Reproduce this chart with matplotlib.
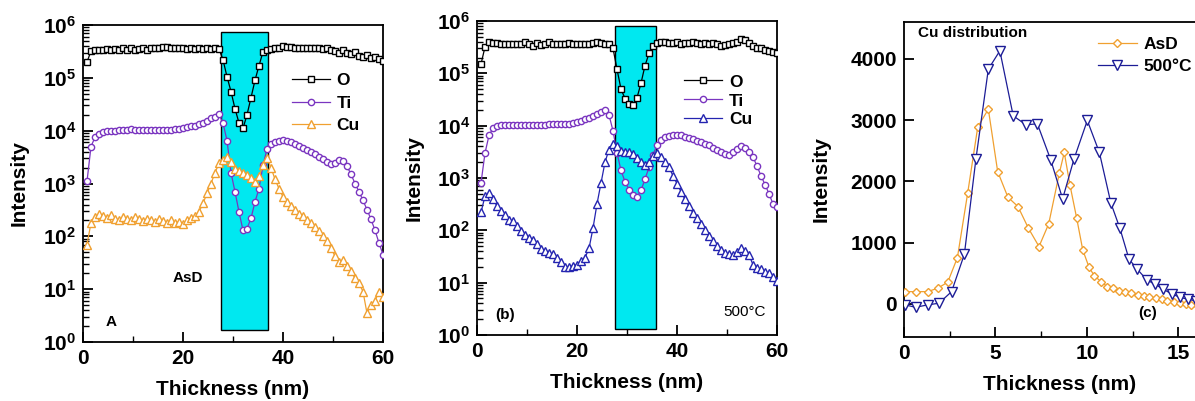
import math
import matplotlib
matplotlib.use("Agg")
import matplotlib.pyplot as plt
from matplotlib.patches import Rectangle
from matplotlib.ticker import FixedLocator, FuncFormatter, LogLocator, NullFormatter

plt.rcParams['font.family'] = ['Liberation Sans', 'DejaVu Sans']
plt.rcParams['mathtext.fontset'] = 'custom'
plt.rcParams['mathtext.rm'] = 'Liberation Sans'
plt.rcParams['mathtext.bf'] = 'Liberation Sans:bold'

# ---------------- data ----------------
thickness = [0.8, 1.6, 2.4, 3.2, 4.0, 4.8, 5.6, 6.4, 7.2, 8.0, 8.8, 9.6, 10.4, 11.2, 12.0,
             12.8, 13.6, 14.4, 15.2, 16.0, 16.8, 17.6, 18.4, 19.2, 20.0, 20.8, 21.6, 22.4,
             23.2, 24.0, 24.8, 25.6, 26.4, 27.2, 28.0, 28.8, 29.6, 30.4, 31.2, 32.0, 32.8,
             33.6, 34.4, 35.2, 36.0, 36.8, 37.6, 38.4, 39.2, 40.0, 40.8, 41.6, 42.4, 43.2,
             44.0, 44.8, 45.6, 46.4, 47.2, 48.0, 48.8, 49.6, 50.4, 51.2, 52.0, 52.8, 53.6,
             54.4, 55.2, 56.0, 56.8, 57.6, 58.4, 59.2, 60.0]

# Panel A (as deposited)
O_asd = [2.0e5, 3.2e5, 3.3e5, 3.4e5, 3.3e5, 3.5e5, 3.4e5, 3.5e5, 3.4e5, 3.6e5, 3.4e5, 3.7e5,
         3.3e5, 3.5e5, 3.6e5, 3.4e5, 3.6e5, 3.7e5, 3.6e5, 3.8e5, 3.9e5, 3.7e5, 3.6e5, 3.7e5,
         3.6e5, 3.5e5, 3.6e5, 3.5e5, 3.6e5, 3.5e5, 3.6e5, 3.5e5, 3.6e5, 3.5e5, 2.2e5, 1.05e5,
         5.5e4, 2.6e4, 1.4e4, 1.1e4, 2.0e4, 4.2e4, 9.0e4, 1.7e5, 3.1e5, 3.4e5, 3.5e5, 3.6e5,
         3.7e5, 4.0e5, 3.9e5, 3.8e5, 3.7e5, 3.6e5, 3.7e5, 3.6e5, 3.7e5, 3.6e5, 3.7e5, 3.5e5,
         3.6e5, 3.3e5, 3.2e5, 3.0e5, 3.3e5, 2.9e5, 2.8e5, 3.1e5, 2.6e5, 2.5e5, 2.7e5, 2.4e5,
         2.5e5, 2.3e5, 2.1e5]
Ti_asd = [1.1e3, 5.0e3, 7.5e3, 8.8e3, 9.5e3, 9.8e3, 1.0e4, 1.0e4, 1.02e4, 1.03e4, 1.05e4,
          1.07e4, 1.05e4, 1.04e4, 1.03e4, 1.02e4, 1.02e4, 1.03e4, 1.03e4, 1.04e4, 1.05e4,
          1.05e4, 1.06e4, 1.08e4, 1.1e4, 1.15e4, 1.2e4, 1.25e4, 1.32e4, 1.42e4, 1.55e4,
          1.7e4, 1.85e4, 2.05e4, 1.4e4, 6.5e3, 1.6e3, 7.0e2, 2.9e2, 1.3e2, 1.4e2, 2.2e2,
          4.5e2, 8.0e2, 2.2e3, 4.5e3, 5.5e3, 6.0e3, 6.5e3, 6.6e3, 6.4e3, 6.0e3, 5.6e3,
          5.2e3, 4.8e3, 4.4e3, 4.0e3, 3.6e3, 3.2e3, 2.9e3, 2.5e3, 2.3e3, 2.4e3, 2.8e3,
          2.7e3, 2.1e3, 1.5e3, 1.0e3, 7.0e2, 4.8e2, 3.2e2, 2.1e2, 1.3e2, 7.5e1, 4.5e1]
Cu_asd = [70, 180, 230, 260, 240, 220, 250, 210, 200, 230, 210, 200, 230, 210, 195, 215,
          200, 190, 210, 195, 180, 200, 175, 190, 170, 200, 220, 240, 290, 420, 650, 1000,
          1600, 2400, 2800, 3200, 2500, 1900, 1750, 1600, 1450, 1250, 1050, 1400, 2200,
          3000, 2000, 1200, 800, 560, 450, 380, 310, 260, 240, 200, 175, 150, 125, 100,
          80, 60, 42, 33, 36, 28, 22, 16, 13, 9, 3.5, 5, 6, 9, 7]

# Panel b (500 C)
O_500 = [1.5e5, 3.2e5, 3.9e5, 3.8e5, 3.8e5, 3.7e5, 3.7e5, 3.6e5, 3.7e5, 3.6e5, 3.7e5, 3.9e5,
         3.7e5, 3.3e5, 3.8e5, 3.5e5, 3.7e5, 3.9e5, 3.6e5, 3.7e5, 3.7e5, 3.6e5, 3.8e5, 3.7e5,
         3.7e5, 3.6e5, 3.7e5, 3.7e5, 3.8e5, 3.9e5, 3.8e5, 3.7e5, 3.6e5, 3.0e5, 1.2e5, 5.0e4,
         3.3e4, 2.6e4, 2.5e4, 3.4e4, 6.5e4, 1.4e5, 2.4e5, 3.4e5, 3.8e5, 3.9e5, 3.9e5, 3.8e5,
         3.8e5, 3.9e5, 3.7e5, 3.8e5, 3.8e5, 3.9e5, 3.8e5, 3.7e5, 3.8e5, 3.7e5, 3.8e5, 3.6e5,
         3.4e5, 3.5e5, 3.7e5, 3.8e5, 4.0e5, 4.5e5, 4.3e5, 3.8e5, 3.3e5, 3.1e5, 3.0e5, 2.8e5,
         2.7e5, 2.6e5, 2.5e5]
Ti_500 = [8.0e2, 3.0e3, 6.5e3, 9.0e3, 9.8e3, 1.02e4, 1.04e4, 1.05e4, 1.05e4, 1.05e4, 1.05e4,
          1.05e4, 1.05e4, 1.05e4, 1.05e4, 1.05e4, 1.05e4, 1.06e4, 1.06e4, 1.06e4, 1.07e4,
          1.07e4, 1.08e4, 1.12e4, 1.17e4, 1.25e4, 1.32e4, 1.4e4, 1.5e4, 1.65e4, 1.8e4,
          1.95e4, 1.6e4, 8.0e3, 3.0e3, 1.4e3, 8.5e2, 6.0e2, 4.8e2, 4.4e2, 5.8e2, 9.5e2,
          1.6e3, 2.8e3, 4.2e3, 5.3e3, 6.0e3, 6.4e3, 6.7e3, 6.7e3, 6.5e3, 6.2e3, 5.8e3,
          5.5e3, 5.1e3, 4.8e3, 4.5e3, 4.2e3, 3.8e3, 3.5e3, 3.2e3, 2.9e3, 2.8e3, 3.1e3,
          3.6e3, 4.0e3, 3.8e3, 3.2e3, 2.5e3, 1.7e3, 1.1e3, 7.5e2, 5.0e2, 3.2e2, 2.8e2]
Cu_500 = [220, 450, 520, 400, 290, 230, 200, 160, 150, 120, 95, 82, 72, 65, 55, 44, 40, 37,
          35, 30, 25, 20, 20, 21, 22, 26, 30, 45, 110, 320, 800, 2000, 3500, 4500, 4000,
          3300, 3200, 3100, 2900, 2400, 2000, 1800, 2000, 2600, 3000, 2500, 2000, 1600,
          1100, 780, 550, 390, 290, 215, 170, 135, 100, 78, 63, 50, 42, 37, 35, 34, 38,
          45, 40, 34, 22, 19, 18, 16, 15, 13, 11]

# Panel c (Cu distribution, linear)
x_asd_c = [0.05, 0.64, 1.29, 1.84, 2.39, 2.92, 3.48, 4.03, 4.61, 5.12, 5.68, 6.23, 6.8,
           7.38, 7.91, 8.49, 8.76, 9.07, 9.44, 9.77, 10.1, 10.4, 10.77, 11.1, 11.4, 11.77,
           12.1, 12.4, 12.77, 13.1, 13.4, 13.77, 14.1, 14.4, 14.77, 15.1, 15.4, 15.7, 16.05]
cu_asd_c = [200, 200, 200, 256, 354, 756, 1807, 2884, 3178, 2160, 1741, 1589, 1235, 936,
            1306, 2133, 2471, 1943, 1398, 882, 610, 457, 365, 283, 256, 218, 200, 174, 147,
            130, 109, 93, 76, 55, 38, 22, 0, -16, -30]
x_500_c = [0.05, 0.64, 1.29, 1.91, 2.6, 3.3, 3.93, 4.61, 5.24, 5.97, 6.67, 7.29, 8.02, 8.67,
           9.29, 10.02, 10.68, 11.31, 11.8, 12.3, 12.75, 13.27, 13.72, 14.17, 14.63, 15.08,
           15.5, 15.95]
cu_500_c = [-16, -55, -16, 11, 200, 810, 2362, 3831, 4130, 3069, 2922, 2939, 2351, 1714,
            2362, 2993, 2471, 1644, 1235, 730, 567, 392, 321, 240, 163, 109, 76, 50]

# cyan regions (x0, x1, y0, y1)
region_asd = (27.6, 37.0, 1.7, 7.3e5)
region_500 = (27.5, 35.8, 1.3, 7.9e5)

# ---------------- style ----------------
PURPLE = '#7A35C0'
ORANGE = '#F0A030'
BLUE = '#2424B0'
NAVY = '#1C1C96'
CYAN = '#00E8F0'

fig = plt.figure(figsize=(11.95, 4.01), dpi=100)
W, H = 1195.0, 401.0

def px_axes(left, right, top, bottom):
    return fig.add_axes([left / W, 1 - bottom / H, (right - left) / W, (bottom - top) / H])

axA = px_axes(83, 383, 25, 342)
axB = px_axes(477, 777, 21, 335)
axC = px_axes(904, 1215, 22, 337)

def style_log(ax):
    ax.set_yscale('log')
    ax.set_ylim(1, 1e6)
    ax.set_xlim(0, 60)
    ax.yaxis.set_major_locator(FixedLocator([1, 10, 100, 1e3, 1e4, 1e5, 1e6]))
    ax.yaxis.set_major_formatter(FuncFormatter(lambda v, p: r'$\mathbf{10^{%d}}$' % round(math.log10(v))))
    ax.yaxis.set_minor_locator(LogLocator(base=10, subs=range(2, 10), numticks=20))
    ax.yaxis.set_minor_formatter(NullFormatter())
    ax.xaxis.set_major_locator(FixedLocator([0, 20, 40, 60]))
    ax.xaxis.set_minor_locator(FixedLocator([10, 30, 50]))

def common(ax, ylabelpad):
    for s in ax.spines.values():
        s.set_linewidth(1.3)
    ax.tick_params(which='major', direction='in', length=7, width=1.3, labelsize=15, pad=5,
                   top=False, right=False)
    ax.tick_params(which='minor', direction='in', length=4, width=1.0, top=False, right=False)
    for lab in ax.get_xticklabels() + ax.get_yticklabels():
        lab.set_fontweight('bold')
    ax.set_xlabel('Thickness (nm)', fontsize=15, fontweight='bold', labelpad=9)
    ax.set_ylabel('Intensity', fontsize=15, fontweight='bold', labelpad=ylabelpad)

mk = dict(markerfacecolor='white', linewidth=0.9, markeredgewidth=1.0)
LEG = dict(loc='upper left', frameon=False, prop={'size': 12.5, 'weight': 'bold'},
           handlelength=2.2, handletextpad=0.4, borderpad=0, borderaxespad=0)

# ---- Panel A ----
style_log(axA)
x0, x1, y0, y1 = region_asd
axA.add_patch(Rectangle((x0, y0), x1 - x0, y1 - y0, facecolor=CYAN, edgecolor='black',
                        linewidth=1.0, zorder=1))
axA.plot(thickness, O_asd, color='black', marker='s', markersize=4, label='O', zorder=3, **mk)
axA.plot(thickness, Ti_asd, color=PURPLE, marker='o', markersize=4.5, label='Ti', zorder=3, **mk)
axA.plot(thickness, Cu_asd, color=ORANGE, marker='^', markersize=6, label='Cu', zorder=3, **mk)
axA.text(21, 16, 'AsD', fontsize=11, fontweight='bold', ha='center', va='center')
axA.text(5.6, 2.4, 'A', fontsize=11, fontweight='bold', ha='center', va='center')
axA.legend(bbox_to_anchor=(0.695, 0.848), labelspacing=0.42, **LEG)
common(axA, 10)

# ---- Panel b ----
style_log(axB)
x0, x1, y0, y1 = region_500
axB.add_patch(Rectangle((x0, y0), x1 - x0, y1 - y0, facecolor=CYAN, edgecolor='black',
                        linewidth=1.0, zorder=1))
axB.plot(thickness, O_500, color='black', marker='s', markersize=4, label='O', zorder=3, **mk)
axB.plot(thickness, Ti_500, color=PURPLE, marker='o', markersize=4.5, label='Ti', zorder=3, **mk)
axB.plot(thickness, Cu_500, color=BLUE, marker='^', markersize=6, label='Cu', zorder=3, **mk)
axB.text(5.6, 2.4, '(b)', fontsize=11, fontweight='bold', ha='center', va='center')
axB.text(53.5, 2.7, '500°C', fontsize=11, ha='center', va='center')
axB.legend(bbox_to_anchor=(0.69, 0.83), labelspacing=0.22, **LEG)
common(axB, 9)

# ---- Panel c ----
axC.set_xlim(0, 17)
axC.set_ylim(-540, 4600)
axC.xaxis.set_major_locator(FixedLocator([0, 5, 10, 15]))
axC.xaxis.set_minor_locator(FixedLocator([2.5, 7.5, 12.5]))
axC.yaxis.set_major_locator(FixedLocator([0, 1000, 2000, 3000, 4000]))
axC.plot(x_asd_c, cu_asd_c, color=ORANGE, marker='D', markersize=4, label='AsD', zorder=3, **mk)
axC.plot(x_500_c, cu_500_c, color=NAVY, marker='v', markersize=6.5, label='500°C', zorder=3, **mk)
axC.text(0.75, 4420, 'Cu distribution', fontsize=11, fontweight='bold', ha='left', va='center')
axC.text(13.3, -150, '(c)', fontsize=11, fontweight='bold', ha='center', va='center')
axC.legend(bbox_to_anchor=(0.625, 0.953), labelspacing=0.42, **LEG)
common(axC, 14)

fig.savefig('out.png', dpi=100)
